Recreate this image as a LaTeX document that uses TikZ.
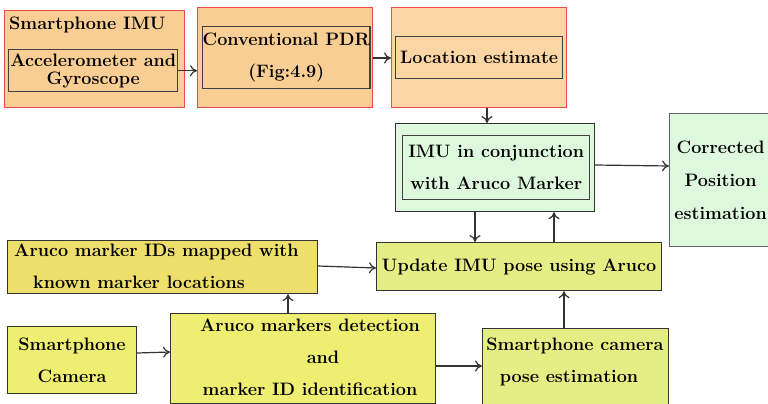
\documentclass[tikz,border=0pt]{standalone}
\usetikzlibrary{arrows.meta}
\definecolor{orA}{HTML}{F8CE94}
\definecolor{orB}{HTML}{FBD5A3}
\definecolor{grB}{HTML}{DEF8DE}
\definecolor{yeA}{HTML}{E5EE85}
\definecolor{yeB}{HTML}{EEDF6C}
\definecolor{yeC}{HTML}{EEEE72}
\definecolor{redE}{HTML}{EE4A4A}
\begin{document}
\begin{tikzpicture}[x=1pt,y=-1pt,
  font=\fontsize{18}{20}\selectfont\bfseries,
  box/.style={draw=black!80, rectangle, inner sep=0pt, anchor=north west, line width=1.2pt, align=center},
  redbox/.style={box, draw=redE, line width=1.2pt},
  inbox/.style={box, draw=black!75, line width=1.4pt},
  txt/.style={inner sep=0pt, align=center},
  arr/.style={-{To[length=7pt,width=11pt]}, line width=1.2pt, draw=black!80}]
\useasboundingbox (0,0) rectangle (768,404);
% top row
\node[redbox, fill=orA, minimum width=180pt, minimum height=97pt] (imu) at (4,10) {};
\node[txt, anchor=west] (imut) at (9,25) {Smartphone IMU};
\node[inbox, fill=orA, minimum width=169pt, minimum height=42pt] (acc) at (8,49) {Accelerometer and\\[-2pt]Gyroscope};
\node[redbox, fill=orA, minimum width=175pt, minimum height=100pt] (pdrout) at (197,7) {};
\node[inbox, fill=orA, minimum width=166pt, minimum height=62pt] (pdr) at (202,26) {Conventional PDR\\[12pt](Fig:4.9)};
\node[redbox, fill=orB, minimum width=175pt, minimum height=100pt] (locout) at (391,7) {};
\node[inbox, fill=orB, minimum width=167pt, minimum height=42pt] (loc) at (395,36) {Location estimate};
% green
\node[box, fill=grB, minimum width=199pt, minimum height=88pt] (grout) at (395,123) {};
\node[inbox, fill=grB, minimum width=187pt, minimum height=64pt] (gr) at (402,135) {IMU in conjunction\\[12pt]with Aruco Marker};
\node[box, fill=grB, draw=black!60, minimum width=102pt, minimum height=133pt] (corr) at (669,113) {Corrected\\[13pt]Position\\[13pt]estimation};
% middle row
\node[box, fill=yeA, minimum width=285pt, minimum height=48pt] (upd) at (376,242) {Update IMU pose using Aruco};
\node[box, fill=yeB, minimum width=310pt, minimum height=53pt] (ids) at (7,240) {};
\node[txt, anchor=west, align=left] (idst) at (14,266) {Aruco marker IDs mapped with\\[12pt]\hspace*{19pt}known marker locations};
% bottom row
\node[box, fill=yeC, minimum width=129pt, minimum height=67pt] (cam) at (7,326) {Smartphone\\[12pt]Camera};
\node[box, fill=yeC, minimum width=265pt, minimum height=90pt] (det) at (170,313) {};
\node[txt] (dett) at (310,357) {Aruco markers detection\\[12pt]\hspace*{26pt}and\\[12pt]marker ID identification};
\node[box, fill=yeA, minimum width=186pt, minimum height=90pt] (pose) at (482,328) {};
\node[txt] (poset) at (575,362) {Smartphone camera\\[12pt]\hspace*{-12pt}pose estimation};
% arrows
\draw[arr] (acc.east) -- (pdrout.west |- acc.east);
\draw[arr] (pdrout.east |- 0,58) -- (locout.west |- 0,58);
\draw[arr] (locout.south -| 487,0) -- (grout.north -| 487,0);
\draw[arr] (grout.east |- 0,165) -- (corr.west |- 0,166);
\draw[arr] (grout.south -| 475,0) -- (upd.north -| 475,0);
\draw[arr] (upd.north -| 554,0) -- (grout.south -| 554,0);
\draw[arr] (ids.east |- 0,266) -- (upd.west |- 0,268);
\draw[arr] (det.north -| 288,0) -- (ids.south -| 288,0);
\draw[arr] (cam.east |- 0,353) -- (det.west |- 0,352);
\draw[arr] (det.east |- 0,366) -- (pose.west |- 0,366);
\draw[arr] (pose.north -| 564,0) -- (upd.south -| 564,0);
\end{tikzpicture}
\end{document}
